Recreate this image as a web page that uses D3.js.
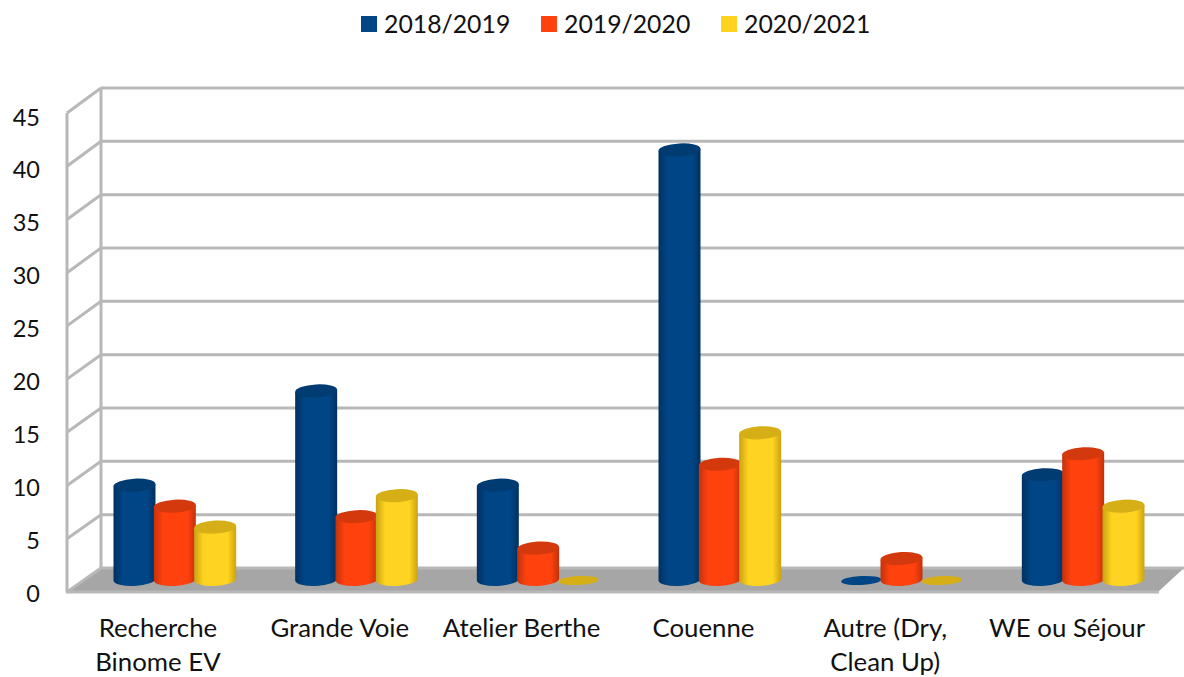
<!DOCTYPE html>
<html>
<head>
<meta charset="utf-8">
<script src="https://cdn.jsdelivr.net/npm/d3@7"></script>
<style>
  html, body { margin: 0; padding: 0; background: #fff; }
  text { font-family: Lato, "Open Sans", sans-serif; fill: #111; }
</style>
</head>
<body>
<div id="chart"></div>
<script>
const categories = ['Recherche\nBinome EV', 'Grande Voie', 'Atelier Berthe', 'Couenne', 'Autre (Dry,\nClean Up)', 'WE ou Séjour'];
const seriesNames = ['2018/2019', '2019/2020', '2020/2021'];
const values2018 = [9, 18, 9, 41, 0, 10];
const values2019 = [7, 6, 3, 11, 2, 12];
const values2020 = [5, 8, 0, 14, 0, 7];
const yTicks = [0, 5, 10, 15, 20, 25, 30, 35, 40, 45];

const seriesValues = [values2018, values2019, values2020];
const seriesColors = ['#004586', '#ff420e', '#ffd320'];
const seriesEdges = ['#00315f', '#c23208', '#c9a213'];
const seriesTops = ['#003a72', '#d4380b', '#d6ae18'];

const width = 1184;
const height = 677;

const svg = d3.select('#chart').append('svg')
  .attr('width', width)
  .attr('height', height)
  .style('display', 'block');

// Scales: front edge of the box, back wall, and the plane the cylinders stand on
const xFront = d3.scaleBand().domain(d3.range(categories.length)).range([67, 1158]);
const xBars = d3.scaleBand().domain(d3.range(categories.length)).range([84, 1174]);
const xSeries = d3.scaleBand().domain(d3.range(seriesNames.length)).range([0, 121]);
const yBack = d3.scaleLinear().domain([0, 45]).range([568, 88]);
const yFront = d3.scaleLinear().domain([0, 45]).range([592, 113]);
const yLabels = d3.scaleLinear().domain([0, 45]).range([593, 117]);
const yBars = d3.scaleLinear().domain([0, 45]).range([579.5, 108]);

const barLeft = i => xBars(i) + (xBars.bandwidth() - xSeries.step() * 3) / 2;

const defs = svg.append('defs');
seriesColors.forEach((color, s) => {
  const grad = defs.append('linearGradient')
    .attr('id', `cyl-${s}`)
    .attr('x1', 0).attr('x2', 1).attr('y1', 0).attr('y2', 0);
  [[0, seriesEdges[s]], [0.22, color], [0.55, color], [0.8, color], [1, seriesEdges[s]]].forEach(d => {
    grad.append('stop').attr('offset', d[0]).attr('stop-color', d[1]);
  });
});
defs.append('filter')
  .attr('id', 'soft')
  .append('feGaussianBlur')
  .attr('stdDeviation', 0.6);

// Floor
svg.append('path')
  .attr('d', d3.line()([[67, yFront(0)], [101, yBack(0)], [1184, yBack(0)], [1158, yFront(0)]]) + 'Z')
  .attr('fill', '#a6a6a6');

// Walls
const grid = svg.append('g')
  .attr('fill', 'none')
  .attr('stroke', '#b8b8b8')
  .attr('stroke-width', 3);

grid.selectAll('.back')
  .data(yTicks)
  .enter()
  .append('line')
  .attr('class', 'back')
  .attr('x1', 101)
  .attr('x2', width)
  .attr('y1', d => yBack(d))
  .attr('y2', d => yBack(d));

grid.selectAll('.side')
  .data(yTicks)
  .enter()
  .append('line')
  .attr('class', 'side')
  .attr('x1', 67)
  .attr('x2', 101)
  .attr('y1', d => yFront(d))
  .attr('y2', d => yBack(d));

grid.append('line')
  .attr('x1', 67).attr('x2', 67)
  .attr('y1', yFront(45)).attr('y2', yFront(0));
grid.append('line')
  .attr('x1', 101).attr('x2', 101)
  .attr('y1', yBack(45)).attr('y2', yBack(0));
grid.append('line')
  .attr('x1', 66).attr('x2', 1159)
  .attr('y1', yFront(0)).attr('y2', yFront(0));

// Cylinders, slightly tilted like the 3D view of the original
const rx = 21;
const ry = 6.5;
const tilt = -3;
const lift = rx * Math.sin(-tilt * Math.PI / 180);
const bars = svg.append('g').attr('filter', 'url(#soft)');

categories.forEach((c, i) => {
  seriesValues.forEach((vals, s) => {
    const v = vals[i];
    const cx = barLeft(i) + xSeries(s) + xSeries.bandwidth() / 2;
    const top = yBars(v);
    const base = yBars(0);
    if (v === 0) {
      bars.append('ellipse')
        .attr('cx', 0).attr('cy', 0)
        .attr('rx', rx - 1).attr('ry', ry - 2)
        .attr('transform', `translate(${cx},${base + 1}) rotate(${tilt})`)
        .attr('fill', s === 0 ? seriesColors[s] : seriesTops[s]);
      return;
    }
    bars.append('path')
      .attr('d', `M${cx - rx},${top + lift}L${cx - rx},${base + lift}A${rx},${ry} ${tilt} 0 0 ${cx + rx},${base - lift}L${cx + rx},${top - lift}Z`)
      .attr('fill', `url(#cyl-${s})`);
    bars.append('ellipse')
      .attr('cx', 0).attr('cy', 0)
      .attr('rx', rx).attr('ry', ry)
      .attr('transform', `translate(${cx},${top}) rotate(${tilt})`)
      .attr('fill', seriesTops[s]);
  });
});

// Value axis
const axis = svg.append('g')
  .attr('transform', 'translate(40,0)')
  .call(d3.axisLeft(yLabels).tickValues(yTicks).tickSize(0).tickPadding(0));
axis.select('.domain').remove();
axis.selectAll('text')
  .attr('dy', '0.34em')
  .style('font-family', 'Lato, "Open Sans", sans-serif')
  .style('font-size', '23.5px');

// Category labels
const labels = svg.append('g')
  .selectAll('text')
  .data(categories)
  .enter()
  .append('text')
  .attr('text-anchor', 'middle')
  .style('font-size', '25.8px');

labels.selectAll('tspan')
  .data((d, i) => d.split('\n').map(line => ({ line, i })))
  .enter()
  .append('tspan')
  .attr('x', d => xFront(d.i) + xFront.bandwidth() / 2)
  .attr('y', (d, j) => 637 + j * 34)
  .text(d => d.line);

// Legend
const xLegend = d3.scalePoint().domain(seriesNames).range([361, 721]);
const legend = svg.append('g')
  .selectAll('g')
  .data(seriesNames)
  .enter()
  .append('g')
  .attr('transform', d => `translate(${xLegend(d)},16)`);

legend.append('rect')
  .attr('width', 16)
  .attr('height', 16)
  .attr('fill', (d, i) => seriesColors[i]);

legend.append('text')
  .attr('x', 23)
  .attr('y', 17)
  .style('font-size', '24.8px')
  .text(d => d);
</script>
</body>
</html>
